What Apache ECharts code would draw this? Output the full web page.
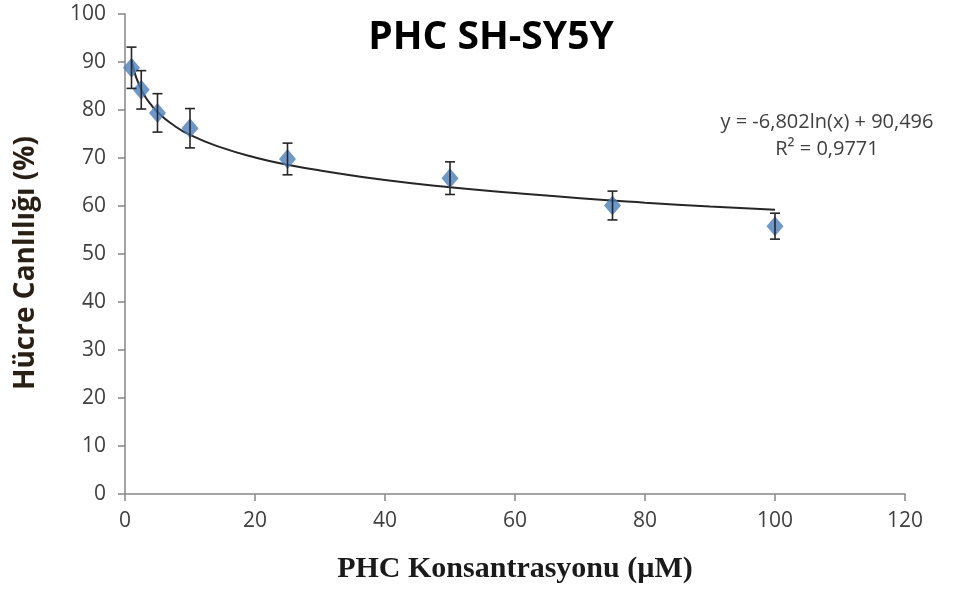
<!DOCTYPE html>
<html><head><meta charset="utf-8">
<script src="https://cdn.jsdelivr.net/npm/echarts@6/dist/echarts.min.js"></script>
<style>html,body{margin:0;padding:0;background:#fff}#c{width:958px;height:590px}</style>
</head><body><div id="c"></div>
<script>
// Concentrations (µM)
const concentrations = [1, 2.5, 5, 10, 25, 50, 75, 100];
// Mean viability (%)
const viability = [88.8, 84.2, 79.4, 76.2, 69.8, 65.8, 60.1, 55.8];
// Error (± SD)
const errors = [4.3, 4.0, 4.0, 4.1, 3.3, 3.4, 3.0, 2.7];
// Logarithmic trendline
const trendX = [1, 1.5, 2, 3, 4, 5, 7, 10, 15, 20, 25, 30, 40, 50, 60, 70, 80, 90, 100];
const trendY = [90.5, 87.7, 85.8, 83.0, 81.1, 79.6, 77.3, 74.8, 72.1, 70.1, 68.6, 67.4, 65.4, 63.9, 62.7, 61.6, 60.7, 59.9, 59.2];
const xTicks = [0, 20, 40, 60, 80, 100, 120];
const yTicks = [0, 10, 20, 30, 40, 50, 60, 70, 80, 90, 100];
const titleText = 'PHC SH-SY5Y';
const eqLines = ['y = -6,802ln(x) + 90,496', 'R² = 0,9771'];

const chart = echarts.init(document.getElementById('c'));
const axisGray = '#868686';
const labelColor = '#404040';
const font = '"Open Sans", sans-serif';

chart.setOption({
  animation: false,
  backgroundColor: '#fff',
  title: [{
    text: titleText, left: 486, top: 13, textAlign: 'center',
    textStyle: {fontFamily: '"Open Sans", sans-serif', fontWeight: 'bold', fontSize: 39, color: '#000'}
  }, {
    text: eqLines.join('\n'), left: 822, top: 104, textAlign: 'center',
    textStyle: {fontFamily: font, fontWeight: 'normal', fontSize: 20, color: labelColor, lineHeight: 27}
  }],
  grid: {left: 125, right: 53, top: 14, bottom: 96, containLabel: false},
  xAxis: {
    type: 'value', min: xTicks[0], max: xTicks[xTicks.length-1], interval: 20,
    name: 'PHC Konsantrasyonu (µM)', nameLocation: 'middle', nameGap: 60,
    nameTextStyle: {fontFamily: '"Liberation Serif", "DejaVu Serif", serif', fontWeight: 'bold', fontSize: 30, color: '#1a1a1a'},
    axisLine: {show: true, lineStyle: {color: axisGray, width: 1.5}},
    axisTick: {show: true, length: 7, inside: false, lineStyle: {color: axisGray, width: 1.5}},
    axisLabel: {fontFamily: font, fontSize: 21, color: labelColor, margin: 17},
    splitLine: {show: false}
  },
  yAxis: {
    type: 'value', min: yTicks[0], max: yTicks[yTicks.length-1], interval: 10,
    name: 'Hücre Canlılığı (%)', nameLocation: 'middle', nameGap: 85,
    nameTextStyle: {fontFamily: '"Open Sans", sans-serif', fontWeight: 'bold', fontSize: 28, color: '#2a1f14', padding: [0, 18, 0, 0]},
    axisLine: {show: true, lineStyle: {color: axisGray, width: 1.5}},
    axisTick: {show: true, length: 7, lineStyle: {color: axisGray, width: 1.5}},
    axisLabel: {fontFamily: font, fontSize: 21, color: labelColor, margin: 19},
    splitLine: {show: false}
  },
  series: [{
    type: 'line', data: trendX.map((x, i) => [x, trendY[i]]), smooth: true,
    showSymbol: false, symbol: 'none', lineStyle: {color: '#262626', width: 2}, z: 2
  }, {
    type: 'scatter', data: concentrations.map((x, i) => [x, viability[i]]),
    symbol: 'diamond', symbolSize: [17, 20], itemStyle: {color: '#4A7EBB'}, z: 3
  }, {
    type: 'custom', z: 4,
    data: concentrations.map((x, i) => [x, viability[i] - errors[i], viability[i] + errors[i]]),
    renderItem: function (params, api) {
      const lo = api.coord([api.value(0), api.value(1)]);
      const hi = api.coord([api.value(0), api.value(2)]);
      const w = 5;
      const st = {stroke: '#262626', lineWidth: 1.6};
      return {type: 'group', children: [
        {type: 'line', shape: {x1: lo[0], y1: lo[1], x2: hi[0], y2: hi[1]}, style: st},
        {type: 'line', shape: {x1: lo[0]-w, y1: lo[1], x2: lo[0]+w, y2: lo[1]}, style: st},
        {type: 'line', shape: {x1: hi[0]-w, y1: hi[1], x2: hi[0]+w, y2: hi[1]}, style: st}
      ]};
    }
  }]
});
</script></body></html>
